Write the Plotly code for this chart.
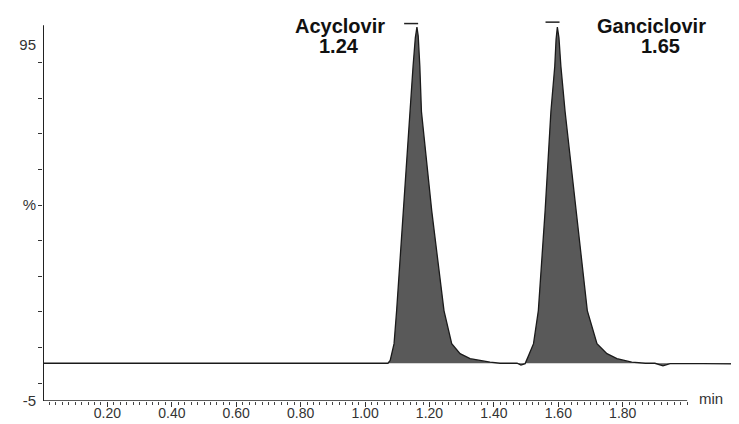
import numpy as np
import plotly.graph_objects as go

# ---- data ----
time_min = [0.00, 0.30, 0.60, 0.90, 1.00, 1.040, 1.071,
            1.078, 1.090, 1.098, 1.119, 1.138, 1.149, 1.156, 1.161,
            1.165, 1.170, 1.175, 1.207, 1.245, 1.269, 1.295, 1.326, 1.388, 1.419,
            1.450, 1.472, 1.484, 1.497,
            1.507, 1.523, 1.538, 1.559, 1.577, 1.589, 1.593, 1.597,
            1.602, 1.608, 1.621, 1.655, 1.690, 1.720, 1.751, 1.782, 1.828, 1.870,
            1.900, 1.925, 1.947, 2.050, 2.161]
intensity_pct = [5.6, 5.6, 5.6, 5.6, 5.6, 5.8, 5.6,
                 6.4, 11.1, 20.4, 48.3, 76.3, 89.0, 97.0, 100.0,
                 97.5, 89.0, 76.3, 48.4, 20.4, 11.1, 8.3, 6.9, 5.9, 5.6,
                 5.6, 5.6, 5.1, 5.5,
                 7.6, 11.1, 20.4, 48.4, 76.3, 89.0, 96.5, 100.0,
                 97.0, 89.0, 76.3, 48.4, 20.4, 11.1, 8.3, 6.9, 5.9, 5.6,
                 5.6, 4.9, 5.5, 5.5, 5.4]
baseline_pct = 5.6

peak_names = ["Acyclovir", "Ganciclovir"]
peak_rt_labels = ["1.24", "1.65"]
apex_mark_time = [1.143, 1.582]
apex_mark_level = [101.0, 101.4]

x_major_vals = [0.1, 0.2, 0.3, 0.4, 0.5, 0.6, 0.7, 0.8, 0.9, 1.0,
                1.1, 1.2, 1.3, 1.4, 1.5, 1.6, 1.7, 1.8, 1.9, 2.0]
x_major_text = ["", "0.20", "", "0.40", "", "0.60", "", "0.80", "", "1.00",
                "", "1.20", "", "1.40", "", "1.60", "", "1.80", "", ""]
y_label_vals = [-5, 50, 95]
y_label_text = ["-5", "%", "95"]
y_minor_vals = [0, 10, 20, 30, 40, 50, 60, 70, 80, 90]

x_minor_vals = [round(v, 2) for v in np.arange(0.02, 2.001, 0.02)]

fig = go.Figure()

# baseline reference for the fill
fig.add_trace(go.Scatter(x=time_min, y=[baseline_pct] * len(time_min),
                         mode="lines", line=dict(width=0, color="rgba(0,0,0,0)"),
                         hoverinfo="skip", showlegend=False))
# chromatogram trace
fig.add_trace(go.Scatter(x=time_min, y=intensity_pct, mode="lines",
                         line=dict(color="#1a1a1a", width=1.3),
                         fill="tonexty", fillcolor="#595959",
                         showlegend=False))
# apex marks (short dashes above each peak)
fig.add_trace(go.Scatter(x=apex_mark_time, y=apex_mark_level, mode="markers",
                         marker=dict(symbol="line-ew", size=10, color="#222",
                                     line=dict(color="#222", width=1.5)),
                         cliponaxis=False, showlegend=False))

# axis lines: x stops at 2.0 min, y stops at 100.5 %
fig.add_shape(type="line", xref="x", yref="y", x0=0, x1=2.0, y0=-5, y1=-5,
              line=dict(color="#222", width=1.6))
fig.add_shape(type="line", xref="x", yref="y", x0=0, x1=0, y0=-5, y1=100.5,
              line=dict(color="#222", width=2))

label_font = dict(family="Liberation Sans, Arial, sans-serif", size=20, color="#111")
name_x = [0.922, 1.888]
rt_x = [0.919, 1.916]
for nm, rt, nx, rx in zip(peak_names, peak_rt_labels, name_x, rt_x):
    fig.add_annotation(x=nx, y=100.2, xref="x", yref="y", text="<b>%s</b>" % nm,
                       showarrow=False, font=label_font, xanchor="center", yanchor="middle")
    fig.add_annotation(x=rx, y=94.6, xref="x", yref="y", text="<b>%s</b>" % rt,
                       showarrow=False, font=label_font, xanchor="center", yanchor="middle")

fig.add_annotation(x=2.031, y=-4.3, xref="x", yref="y", text="min", showarrow=False,
                   font=dict(family="Liberation Sans, Arial, sans-serif", size=15, color="#333"),
                   xanchor="left", yanchor="middle")

# the page body has an 8px margin: figure occupies x 8..739, y 8..424
fig.update_layout(
    width=731, height=416,
    margin=dict(l=35, r=0, t=12, b=23, autoexpand=False),
    paper_bgcolor="white", plot_bgcolor="white",
    xaxis=dict(range=[0, 2.161], showgrid=False, zeroline=False, showline=False,
               tickmode="array", tickvals=x_major_vals, ticktext=x_major_text,
               ticks="outside", ticklen=5, tickwidth=1, tickcolor="#333",
               ticklabelstandoff=-6,
               tickfont=dict(family="Liberation Sans, Arial, sans-serif", size=14, color="#333"),
               minor=dict(tickmode="array", tickvals=x_minor_vals, ticks="outside",
                          ticklen=3, tickwidth=1, tickcolor="#444"),
               automargin=False, fixedrange=True),
    yaxis=dict(range=[-5, 102], showgrid=False, zeroline=False, showline=False,
               tickmode="array", tickvals=y_label_vals, ticktext=y_label_text,
               ticks="", ticklabelstandoff=6,
               tickfont=dict(family="Liberation Sans, Arial, sans-serif", size=15, color="#333"),
               minor=dict(tickmode="array", tickvals=y_minor_vals, ticks="outside",
                          ticklen=4, tickwidth=1, tickcolor="#333"),
               automargin=False, fixedrange=True),
)

fig.write_html("out.html")
